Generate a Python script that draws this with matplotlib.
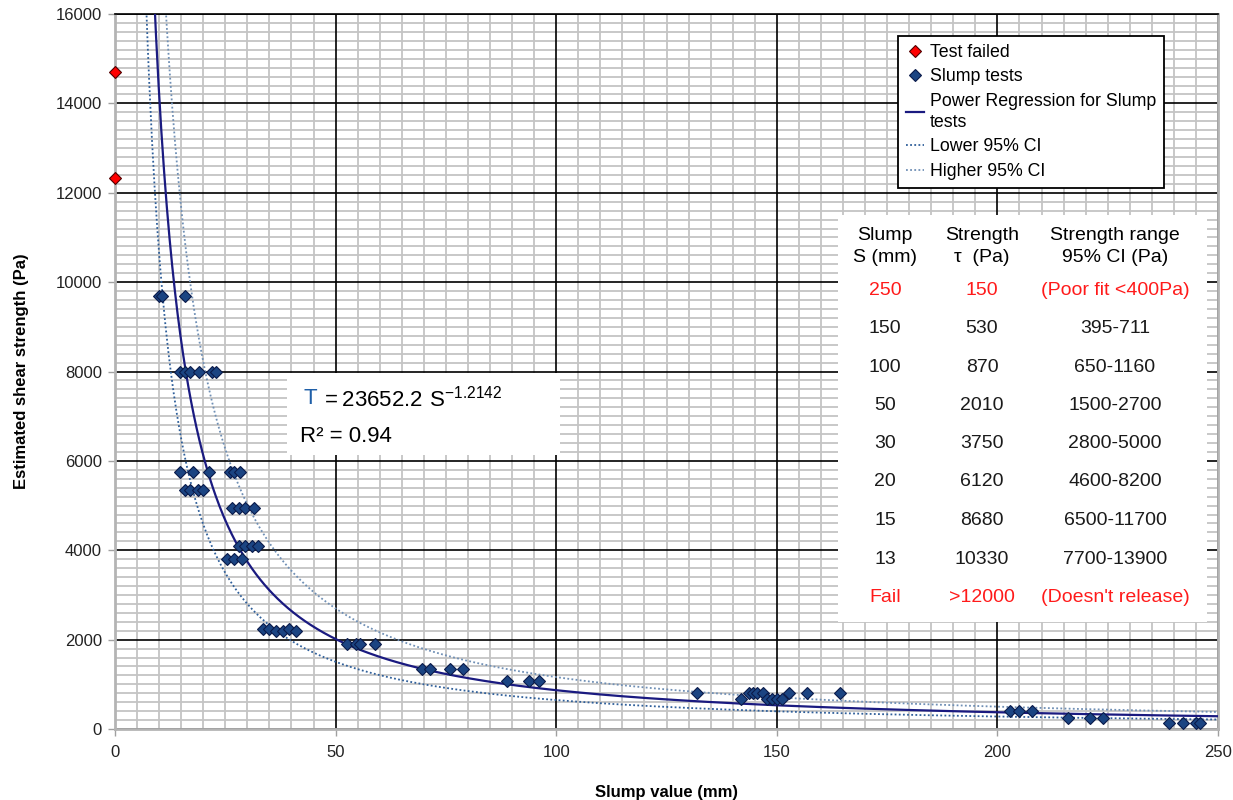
import numpy as np
import matplotlib
matplotlib.use('Agg')
import matplotlib.pyplot as plt
from matplotlib.lines import Line2D
from matplotlib.patches import Rectangle
from matplotlib.ticker import MultipleLocator

plt.rcParams['font.family'] = ['Liberation Sans', 'DejaVu Sans']
plt.rcParams['mathtext.fontset'] = 'custom'
plt.rcParams['mathtext.rm'] = 'Liberation Sans'

#%% Data
# failed tests (plotted at slump = 0)
fail_slump = [0, 0]
fail_strength = [14700, 12330]

# slump tests, grouped by strength level
slump_mm = [10.0, 10.7, 15.9,
            14.7, 15.9, 17.0, 19.1, 21.9, 22.9,
            14.7, 17.7, 21.2, 26.0, 27.0, 28.3,
            15.9, 17.0, 18.8, 20.0,
            26.5, 28.0, 29.5, 31.5,
            28.0, 29.5, 31.0, 32.5,
            25.4, 27.0, 28.8,
            33.5, 35.0, 36.5, 38.0, 39.5, 41.0,
            52.6, 54.6, 55.5, 59.0,
            69.6, 71.4, 76.0, 78.9,
            88.8, 93.8, 96.1,
            132.0, 143.7, 144.6, 145.5, 146.9, 152.8, 156.8, 164.3,
            141.9, 147.8, 149.0, 150.0, 151.2,
            202.8, 205.0, 207.8,
            216.0, 221.0, 224.0,
            239.0, 242.0, 245.0, 246.0]
strength_pa = [9700, 9700, 9700,
               8000, 8000, 8000, 8000, 8000, 8000,
               5750, 5750, 5750, 5750, 5750, 5750,
               5350, 5350, 5350, 5350,
               4950, 4950, 4950, 4950,
               4100, 4100, 4100, 4100,
               3800, 3800, 3800,
               2230, 2230, 2200, 2200, 2230, 2200,
               1900, 1900, 1900, 1900,
               1340, 1340, 1340, 1340,
               1070, 1070, 1070,
               805, 805, 805, 805, 805, 805, 805, 805,
               671, 671, 671, 671, 671,
               400, 400, 400,
               250, 250, 250,
               145, 145, 145, 145]

# table in the chart
tab_header = [['Slump', 'S (mm)'], ['Strength', 'τ  (Pa)'], ['Strength range', '95% CI (Pa)']]
tab_slump = ['250', '150', '100', '50', '30', '20', '15', '13', 'Fail']
tab_strength = ['150', '530', '870', '2010', '3750', '6120', '8680', '10330', '>12000']
tab_range = ['(Poor fit <400Pa)', '395-711', '650-1160', '1500-2700', '2800-5000',
             '4600-8200', '6500-11700', '7700-13900', "(Doesn't release)"]
tab_red = [True, False, False, False, False, False, False, False, True]

# fit values quoted in the table (rows with a real fit)
fit_S = [150, 100, 50, 30, 20, 15, 13]
fit_tau = [530, 870, 2010, 3750, 6120, 8680, 10330]
fit_lo = [395, 650, 1500, 2800, 4600, 6500, 7700]
fit_hi = [711, 1160, 2700, 5000, 8200, 11700, 13900]

#%% Power regressions through the table values
def power_fit(S, v):
	b, lna = np.polyfit(np.log(S), np.log(v), 1)
	return np.exp(lna), b

a_mid, b_mid = power_fit(fit_S, fit_tau)
a_lo, b_lo = power_fit(fit_S, fit_lo)
a_hi, b_hi = power_fit(fit_S, fit_hi)
s_line = np.linspace(5, 250, 800)

#%% Figure
W, H = 1233, 800
def fx(x):
	return x / W
def fy(y):
	return 1 - y / H

fig = plt.figure(figsize=(W / 100, H / 100), dpi=100)
ax = fig.add_axes([fx(115), fy(729), fx(1218) - fx(115), fy(14) - fy(729)])

ax.set_xlim(0, 250)
ax.set_ylim(0, 16000)
ax.xaxis.set_major_locator(MultipleLocator(50))
ax.xaxis.set_minor_locator(MultipleLocator(5))
ax.yaxis.set_major_locator(MultipleLocator(2000))
ax.yaxis.set_minor_locator(MultipleLocator(200))
ax.grid(which='minor', color='#c4c4c4', lw=1.3)
ax.set_axisbelow(True)
# major grid in black, drawn over the grey minor grid
for xv in ax.get_xticks()[1:-1]:
	ax.axvline(xv, color='black', lw=1.2, zorder=1)
for yv in ax.get_yticks()[1:]:
	ax.axhline(yv, color='black', lw=1.2, zorder=1)
for sp in ['left', 'bottom', 'right']:
	ax.spines[sp].set_color('#b4b4b4')
	ax.spines[sp].set_linewidth(2)
ax.spines['top'].set_color('black')
ax.spines['top'].set_linewidth(1.2)
ax.tick_params(which='major', length=5, width=1, color='#a0a0a0', labelsize=12,
			   labelcolor='#222222')
ax.tick_params(axis='y', pad=4.5)
ax.tick_params(axis='x', pad=6.5)
ax.tick_params(which='minor', length=0)

# curves
ax.plot(s_line, a_lo * s_line ** b_lo, ls=(0, (1, 1.3)), color='#2f5f9a', lw=1.3, zorder=3)
ax.plot(s_line, a_hi * s_line ** b_hi, ls=(0, (1, 1.3)), color='#6f8fb5', lw=1.3, zorder=3)
ax.plot(s_line, a_mid * s_line ** b_mid, color='#1a1a80', lw=1.6, zorder=3)

ax.plot(slump_mm, strength_pa, ls='none', marker='D', ms=6.5, mfc='#1b4482',
		mec='#0a1a4a', mew=0.8, zorder=4)
ax.plot(fail_slump, fail_strength, ls='none', marker='D', ms=6.5, mfc='#ff0000',
		mec='#500000', mew=0.8, zorder=5, clip_on=False)

ax.set_xlabel('Slump value (mm)', fontsize=12, fontweight='bold', labelpad=18)
ax.set_ylabel('Estimated shear strength (Pa)', fontsize=12, fontweight='bold', labelpad=19)

#%% Legend
handles = [Line2D([], [], ls='none', marker='D', ms=6.5, mfc='#ff0000', mec='#500000', mew=0.8),
		   Line2D([], [], ls='none', marker='D', ms=6.5, mfc='#1b4482', mec='#0a1a4a', mew=0.8),
		   Line2D([], [], color='#1a1a80', lw=1.6),
		   Line2D([], [], ls=(0, (1, 1.3)), color='#2f5f9a', lw=1.3),
		   Line2D([], [], ls=(0, (1, 1.3)), color='#6f8fb5', lw=1.3)]
labels = ['Test failed', 'Slump tests', 'Power Regression for Slump\ntests',
		  'Lower 95% CI', 'Higher 95% CI']
leg = ax.legend(handles, labels, loc='upper left', bbox_to_anchor=(fx(898), fy(36)),
				bbox_transform=fig.transFigure, borderaxespad=0, fontsize=12.8,
				handlelength=1.0, handletextpad=0.35, borderpad=0.45, labelspacing=0.42,
				fancybox=False, framealpha=1, edgecolor='black')
for t in leg.get_texts():
	t.set_linespacing(1.3)
leg.get_frame().set_linewidth(1.3)
leg.set_zorder(10)

#%% Equation box
ax.add_patch(Rectangle((fx(287), fy(455)), fx(560) - fx(287), fy(373) - fy(455),
					   transform=fig.transFigure, facecolor='white', edgecolor='none', zorder=6))
fig.text(fx(304), fy(399), 'Τ', fontsize=16, color='#1f5fa8', va='center', zorder=7)
fig.text(fx(320), fy(399), r'$\mathregular{= 23652.2\ S^{-1.2142}}$', fontsize=16,
		 va='center', zorder=7)
fig.text(fx(300), fy(436), 'R² = 0.94', fontsize=16, va='center', zorder=7)

#%% Table box
ax.add_patch(Rectangle((fx(838), fy(622)), fx(1207) - fx(838), fy(215) - fy(622),
					   transform=fig.transFigure, facecolor='white', edgecolor='none', zorder=6))
col_x = [885, 982, 1115]
for cx, hdr in zip(col_x, tab_header):
	fig.text(fx(cx), fy(235), hdr[0], fontsize=14, ha='center', va='center')
	fig.text(fx(cx), fy(257), hdr[1], fontsize=14, ha='center', va='center')
row_y = [290, 328.5, 367, 405, 443.5, 482, 520.5, 559, 598]
for ii in range(len(tab_slump)):
	col = '#ff1a1a' if tab_red[ii] else '#1a1a1a'
	for cx, txt in zip(col_x, [tab_slump[ii], tab_strength[ii], tab_range[ii]]):
		fig.text(fx(cx), fy(row_y[ii]), txt, fontsize=14, ha='center', va='center', color=col)

plt.savefig('out.png', dpi=100)
